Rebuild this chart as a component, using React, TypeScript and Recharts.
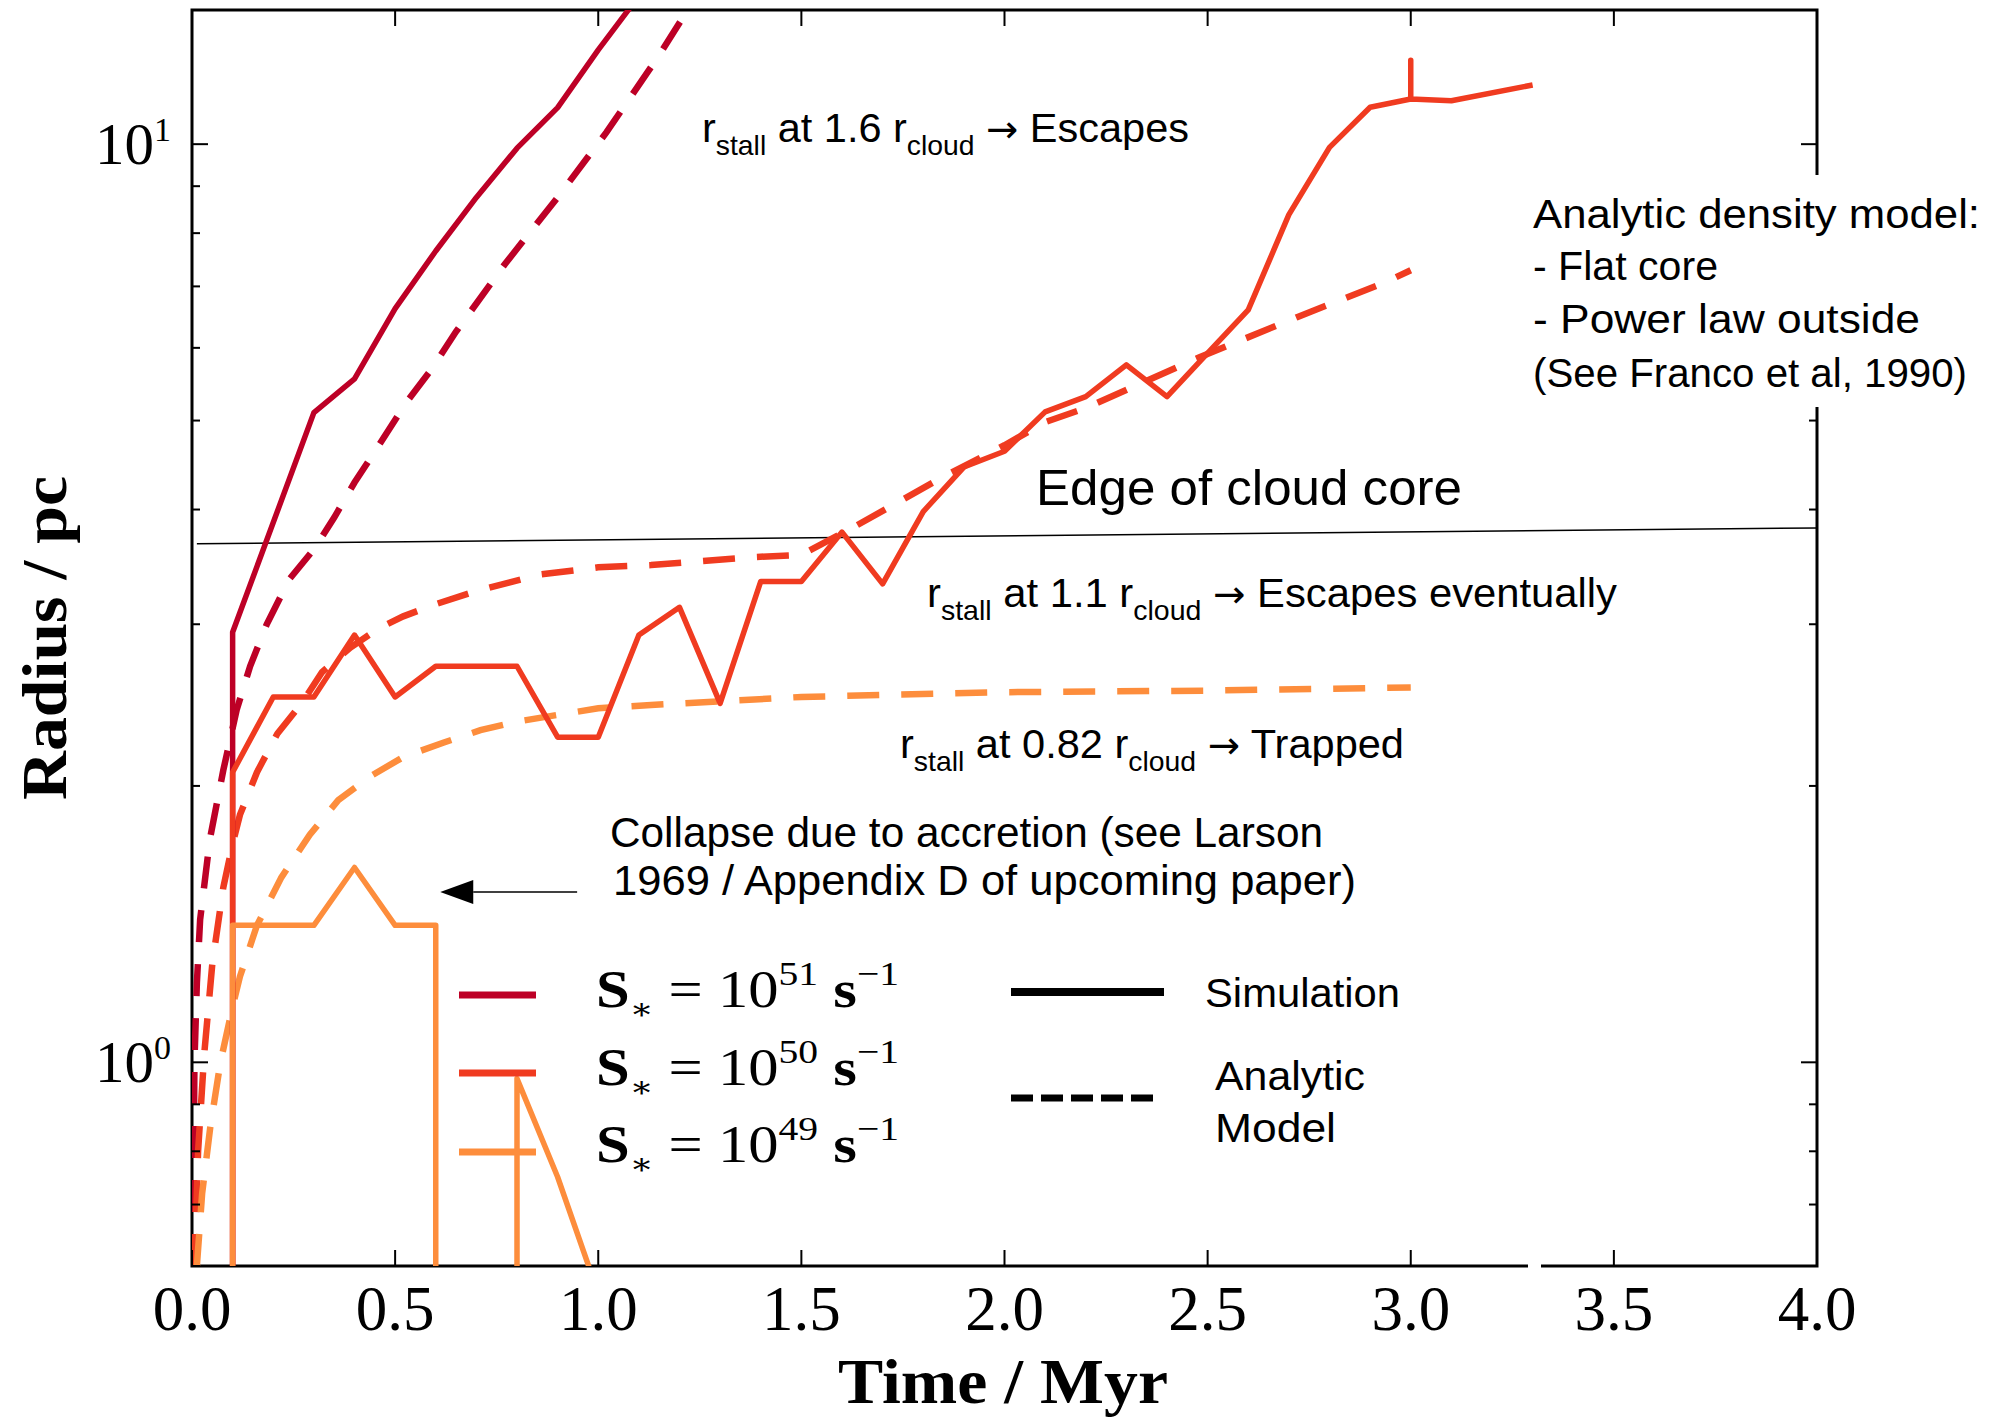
import React from "react";
import {
  LineChart,
  Line,
  XAxis,
  YAxis,
  ReferenceLine,
  ReferenceArea,
  Legend,
  Label,
} from "recharts";

const W = 1990;
const H = 1420;
const PLOT_LEFT = 192;
const PLOT_RIGHT = 1817;
const PLOT_TOP = 10;
const PLOT_BOTTOM = 1266;

const SERIF = '"Liberation Serif", "DejaVu Serif", serif';
const SANS = '"Liberation Sans", Arial, "DejaVu Sans", sans-serif';

const timeTicks = [0, 0.5, 1, 1.5, 2, 2.5, 3, 3.5, 4];
const radiusTicks = [0.6, 0.7, 0.8, 0.9, 1, 2, 3, 4, 5, 6, 7, 8, 9, 10];
const radiusMajor = [1, 10];

// [time / Myr, radius / pc]
const sim51: [number, number][] = [
  [0.1, 0.3], [0.1, 2.94], [0.3, 5.1], [0.4, 5.55], [0.5, 6.62], [0.6, 7.65],
  [0.7, 8.75], [0.8, 9.9], [0.9, 10.96], [1.0, 12.67], [1.1, 14.5], [1.2, 16.8],
];
const sim50: [number, number][] = [
  [0.1, 0.3], [0.1, 2.07], [0.2, 2.5], [0.3, 2.5], [0.4, 2.92], [0.5, 2.5],
  [0.6, 2.7], [0.7, 2.7], [0.8, 2.7], [0.9, 2.26], [1.0, 2.26], [1.1, 2.92],
  [1.2, 3.13], [1.3, 2.46], [1.4, 3.34], [1.5, 3.34], [1.6, 3.78], [1.7, 3.32],
  [1.8, 3.98], [1.9, 4.45], [2.0, 4.63], [2.1, 5.11], [2.2, 5.31], [2.3, 5.75],
  [2.4, 5.31], [2.5, 5.92], [2.6, 6.6], [2.7, 8.38], [2.8, 9.92], [2.9, 10.97],
  [3.0, 11.2], [3.0, 12.34], [3.0, 11.2], [3.1, 11.15], [3.3, 11.6],
];
const sim49: [number, number][] = [
  [0.1, 0.3], [0.1, 1.41], [0.2, 1.41], [0.3, 1.41], [0.4, 1.63], [0.5, 1.41],
  [0.6, 1.41], [0.6, 0.3], [0.8, 0.3], [0.8, 0.96], [0.9, 0.75], [1.0, 0.56],
];
const model51: [number, number][] = [
  [0.002, 0.6], [0.006, 1.0], [0.012, 1.22], [0.02, 1.43], [0.044, 1.75],
  [0.077, 2.08], [0.11, 2.42], [0.143, 2.7], [0.184, 3.0], [0.24, 3.36],
  [0.3, 3.62], [0.35, 3.92], [0.4, 4.28], [0.46, 4.7], [0.53, 5.25],
  [0.59, 5.69], [0.65, 6.25], [0.77, 7.4], [0.9, 8.75], [1.02, 10.3],
  [1.15, 12.5], [1.25, 14.7],
];
const model50: [number, number][] = [
  [0.006, 0.6], [0.015, 0.8], [0.03, 1.02], [0.05, 1.28], [0.077, 1.55],
  [0.1, 1.73], [0.118, 1.86], [0.16, 2.07], [0.21, 2.28], [0.27, 2.46],
  [0.32, 2.66], [0.39, 2.83], [0.46, 2.97], [0.52, 3.06], [0.6, 3.155],
  [0.7, 3.26], [0.78, 3.33], [0.86, 3.4], [1.0, 3.46], [1.13, 3.48],
  [1.38, 3.55], [1.5, 3.57], [1.63, 3.83], [1.84, 4.32], [2.0, 4.7],
  [2.1, 4.98], [2.2, 5.16], [2.34, 5.5], [2.48, 5.86], [2.72, 6.48],
  [2.94, 7.08], [3.0, 7.29],
];
const model49: [number, number][] = [
  [0.012, 0.6], [0.025, 0.72], [0.045, 0.85], [0.07, 1.0], [0.1, 1.15],
  [0.118, 1.24], [0.16, 1.41], [0.22, 1.59], [0.29, 1.77], [0.36, 1.93],
  [0.44, 2.05], [0.52, 2.15], [0.62, 2.23], [0.71, 2.3], [0.8, 2.35],
  [0.9, 2.39], [1.0, 2.43], [1.13, 2.45], [1.5, 2.5], [2.0, 2.53],
  [2.5, 2.54], [3.0, 2.56],
];

const coreEdge = [
  { x: 0.012, y: 3.67 },
  { x: 4.0, y: 3.82 },
];
const collapseArrow = [
  { x: 0.948, y: 1.533 },
  { x: 0.611, y: 1.533 },
];

const series = [
  { key: "51", color: "#bd0026", sim: sim51, model: model51 },
  { key: "50", color: "#f03b20", sim: sim50, model: model50 },
  { key: "49", color: "#fd8d3c", sim: sim49, model: model49 },
];

const rows = (pts: [number, number][]) => pts.map(([t, r]) => ({ t, r }));

function XTick(props: any) {
  const { x, y, payload } = props;
  return (
    <g>
      <line x1={x} x2={x} y1={y} y2={y - 16} stroke="#000" strokeWidth={2} />
      <line x1={x} x2={x} y1={PLOT_TOP} y2={PLOT_TOP + 16} stroke="#000" strokeWidth={2} />
      <text x={x} y={y + 64} textAnchor="middle" fontFamily={SERIF} fontSize={63} fill="#000">
        {Number(payload.value).toFixed(1)}
      </text>
    </g>
  );
}

function YTick(props: any) {
  const { x, y, payload } = props;
  const major = radiusMajor.includes(payload.value);
  const len = major ? 16 : 8;
  return (
    <g>
      <line x1={x} x2={x + len} y1={y} y2={y} stroke="#000" strokeWidth={2} />
      <line x1={PLOT_RIGHT - len} x2={PLOT_RIGHT} y1={y} y2={y} stroke="#000" strokeWidth={2} />
      {major && (
        <text x={x - 21} y={y + 20} textAnchor="end" fontFamily={SERIF} fontSize={59} fill="#000">
          10
          <tspan dy={-23} fontSize={34}>
            {Math.round(Math.log10(payload.value))}
          </tspan>
        </text>
      )}
    </g>
  );
}

function ArrowShape(props: any) {
  const { x1, y1, x2, y2 } = props;
  const head = 33;
  return (
    <g>
      <line x1={x1} y1={y1} x2={x2 + head} y2={y2} stroke="#000" strokeWidth={1.5} />
      <polygon
        points={`${x2},${y2} ${x2 + head},${y2 - 12} ${x2 + head},${y2 + 12}`}
        fill="#000"
      />
    </g>
  );
}

function LegendBox() {
  const rowsY = [95, 173, 252];
  const textY = [107, 185, 262];
  return (
    <svg width={1000} height={350} style={{ overflow: "visible" }}>
      {series.map((s, i) => (
        <g key={s.key}>
          <line x1={19} x2={96} y1={rowsY[i]} y2={rowsY[i]} stroke={s.color} strokeWidth={7} />
          <text
            x={156}
            y={textY[i]}
            fontFamily={SERIF}
            fontSize={52}
            fill="#000"
            textLength={303}
            lengthAdjust="spacingAndGlyphs"
          >
            <tspan fontWeight="bold">S</tspan>
            <tspan dy={12} fontSize={30}>∗</tspan>
            <tspan dy={-12}>{" = 10"}</tspan>
            <tspan dy={-22} fontSize={34}>{s.key}</tspan>
            <tspan dy={22} fontWeight="bold">{" s"}</tspan>
            <tspan dy={-22} fontSize={34}>−1</tspan>
          </text>
        </g>
      ))}
      <line x1={571} x2={724} y1={92} y2={92} stroke="#000" strokeWidth={8} />
      <line x1={571} x2={713} y1={198} y2={198} stroke="#000" strokeWidth={7} strokeDasharray="22 8" />
      <text x={765} y={107} fontFamily={SANS} fontSize={40} textLength={195} lengthAdjust="spacingAndGlyphs">
        Simulation
      </text>
      <text x={775} y={190} fontFamily={SANS} fontSize={40} textLength={150} lengthAdjust="spacingAndGlyphs">
        Analytic
      </text>
      <text x={775} y={242} fontFamily={SANS} fontSize={40} textLength={121} lengthAdjust="spacingAndGlyphs">
        Model
      </text>
    </svg>
  );
}

function StallNote({ x, y, width, factor, outcome }: any) {
  return (
    <text x={x} y={y} fontSize={41} fontFamily={SANS} fill="#000" textLength={width} lengthAdjust="spacingAndGlyphs">
      r
      <tspan dy={13} fontSize={28}>stall</tspan>
      <tspan dy={-13}>{` at ${factor} r`}</tspan>
      <tspan dy={13} fontSize={28}>cloud</tspan>
      <tspan dy={-13}>{" "}</tspan>
      <tspan fontFamily='"DejaVu Sans", sans-serif' fontSize={38}>→</tspan>
      <tspan>{` ${outcome}`}</tspan>
    </text>
  );
}

function Note({ x, y, width, size = 42, children }: any) {
  return (
    <text x={x} y={y} fontSize={size} fontFamily={SANS} fill="#000" textLength={width} lengthAdjust="spacingAndGlyphs">
      {children}
    </text>
  );
}

export default function App() {
  return (
    <div style={{ position: "absolute", left: 0, top: 0, width: W, height: H, background: "#fff" }}>
      <LineChart
        width={W}
        height={H}
        margin={{ top: PLOT_TOP, right: W - PLOT_RIGHT, left: 0, bottom: 0 }}
      >
        <XAxis
          type="number"
          dataKey="t"
          domain={[0, 4]}
          ticks={timeTicks}
          interval={0}
          allowDataOverflow
          height={H - PLOT_BOTTOM}
          axisLine={false}
          tickLine={false}
          tickSize={0}
          tickMargin={0}
          tick={(p: any) => <XTick {...p} />}
        >
          <Label
            content={() => (
              <text
                x={1003}
                y={1403}
                textAnchor="middle"
                fontFamily={SERIF}
                fontWeight="bold"
                fontSize={64}
                textLength={330}
                lengthAdjust="spacingAndGlyphs"
              >
                Time / Myr
              </text>
            )}
          />
        </XAxis>
        <YAxis
          type="number"
          dataKey="r"
          scale="log"
          domain={[0.6, 14]}
          ticks={radiusTicks}
          interval={0}
          allowDataOverflow
          width={PLOT_LEFT}
          axisLine={false}
          tickLine={false}
          tickSize={0}
          tickMargin={0}
          tick={(p: any) => <YTick {...p} />}
        >
          <Label
            content={() => (
              <text
                transform="translate(66, 638) rotate(-90)"
                x={0}
                y={0}
                textAnchor="middle"
                fontFamily={SERIF}
                fontWeight="bold"
                fontSize={64}
                textLength={324}
                lengthAdjust="spacingAndGlyphs"
              >
                Radius / pc
              </text>
            )}
          />
        </YAxis>
        <ReferenceArea x1={0} x2={4} y1={0.6} y2={14} fill="none" stroke="#000" strokeWidth={3} />
        <ReferenceLine segment={coreEdge} stroke="#000" strokeWidth={1.5} />
        <ReferenceLine segment={collapseArrow} shape={(p: any) => <ArrowShape {...p} />} />
        {series.map((s) => (
          <Line
            key={`model-${s.key}`}
            data={rows(s.model)}
            dataKey="r"
            type="linear"
            stroke={s.color}
            strokeWidth={6.5}
            strokeDasharray="32 22"
            dot={false}
            activeDot={false}
            isAnimationActive={false}
          />
        ))}
        {series.map((s) => (
          <Line
            key={`sim-${s.key}`}
            data={rows(s.sim)}
            dataKey="r"
            type="linear"
            stroke={s.color}
            strokeWidth={5.5}
            strokeLinejoin="round"
            dot={false}
            activeDot={false}
            isAnimationActive={false}
          />
        ))}
        <Legend
          layout="vertical"
          align="center"
          verticalAlign="middle"
          wrapperStyle={{ left: 440, top: 900, width: 1000, height: 350 }}
          content={() => <LegendBox />}
        />
      </LineChart>
      <svg
        width={W}
        height={H}
        style={{ position: "absolute", left: 0, top: 0, pointerEvents: "none" }}
      >
        <rect x={1528} y={175} width={W - 1528} height={232} fill="#fff" />
        <rect x={1528} y={1256} width={13} height={20} fill="#fff" />
        <StallNote x={702} y={142} width={487} factor="1.6" outcome="Escapes" />
        <Note x={1036} y={505} width={426} size={50}>Edge of cloud core</Note>
        <StallNote x={927} y={607} width={690} factor="1.1" outcome="Escapes eventually" />
        <StallNote x={900} y={758} width={504} factor="0.82" outcome="Trapped" />
        <Note x={610} y={847} width={713}>Collapse due to accretion (see Larson</Note>
        <Note x={613} y={895} width={743}>1969 / Appendix D of upcoming paper)</Note>
        <Note x={1533} y={228} width={447} size={40}>Analytic density model:</Note>
        <Note x={1533} y={280} width={185} size={40}>- Flat core</Note>
        <Note x={1533} y={333} width={387} size={40}>- Power law outside</Note>
        <Note x={1533} y={387} width={434} size={40}>(See Franco et al, 1990)</Note>
      </svg>
    </div>
  );
}
